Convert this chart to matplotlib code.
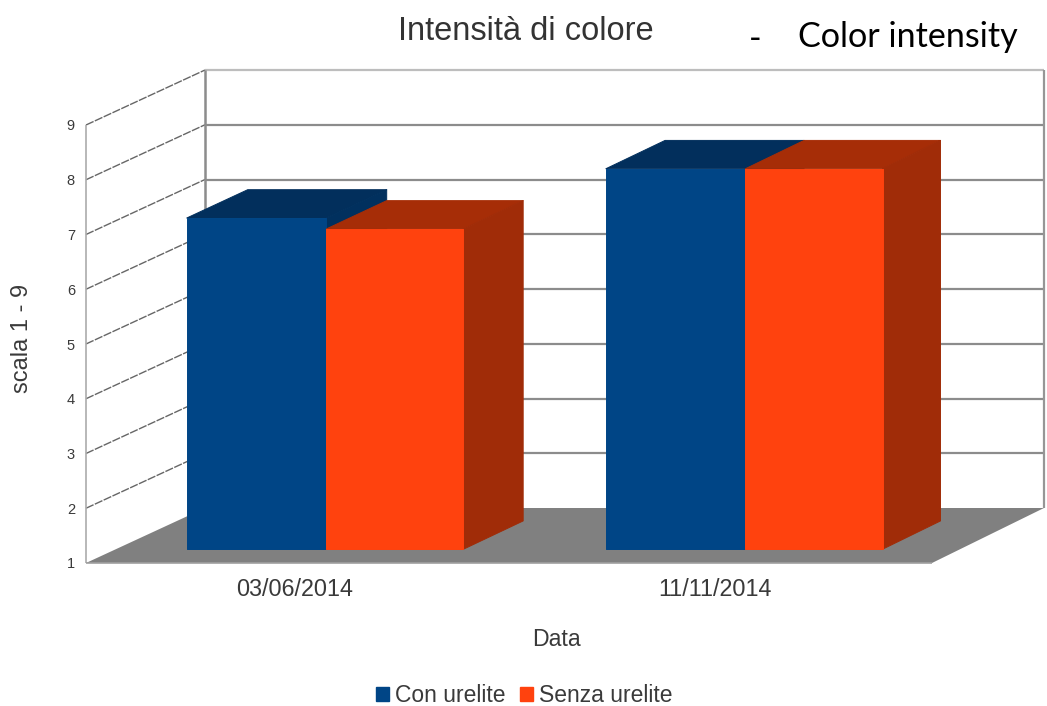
import matplotlib
matplotlib.use("Agg")
import matplotlib.pyplot as plt
from matplotlib.patches import Polygon, Patch
from matplotlib.transforms import ScaledTranslation

# Chart data
categories = ["03/06/2014", "11/11/2014"]
series_names = ["Con urelite", "Senza urelite"]
con_urelite = [7.05, 7.95]
senza_urelite = [6.85, 7.95]
value_ticks = [1, 2, 3, 4, 5, 6, 7, 8, 9]

# Face colours per series: front, top, side
palette = [("#004586", "#022F5C", "#01305E"), ("#FF420E", "#A62D07", "#A02C08")]

W, H = 1047, 706
fig = plt.figure(figsize=(W / 100, H / 100), dpi=100, facecolor="white")
plt.rcParams["font.family"] = ["Liberation Sans", "DejaVu Sans"]
ax = fig.add_axes([86 / W, (H - 563) / H, (932 - 86) / W, (563 - 125) / H])

# Front plane in axis units: one category step is 420 px, one value step 54.75 px
step_px = 420
xmin, xmax = -211 / step_px, 635 / step_px
ymin, ymax = 1, 9
ax.set_xlim(xmin, xmax)
ax.set_ylim(ymin, ymax)

# Oblique depth: shift of the back plane, slightly narrower on the right side
shift_left, shift_right = 119 / step_px, 112 / step_px
shift_up = 55 / 54.75


def project(x, v, d):
    """Map a point at depth d (0 front, 1 back) onto the front-plane axes."""
    t = (x - xmin) / (xmax - xmin)
    return x + d * (shift_left + (shift_right - shift_left) * t), v + d * shift_up


def face(points, color, z, edge=None, lw=0.0):
    ax.add_patch(Polygon([project(*p) for p in points], closed=True, facecolor=color,
                         edgecolor=edge or color, linewidth=lw, joinstyle="round",
                         clip_on=False, zorder=z))


def line(p, q, color, lw, z=1, style="-"):
    a, b = project(*p), project(*q)
    ax.plot([a[0], b[0]], [a[1], b[1]], color=color, lw=lw, clip_on=False, zorder=z,
            solid_capstyle="butt", linestyle=style)


# Walls and grid
for v in value_ticks:
    if v > ymin:
        line((xmin, v, 1), (xmax, v, 1), "#BDBDBD" if v == ymax else "#8C8C8C", 1.6)
        line((xmin, v, 0), (xmin, v, 1), "#666666", 1.0, style=(0, (6, 1)))
line((xmin, ymin, 1), (xmin, ymax, 1), "#8C8C8C", 1.8)
line((xmax, ymin, 1), (xmax, ymax, 1), "#969696", 1.6)
line((xmin, ymin, 0), (xmin, ymax, 0), "#ABABAB", 1.2)

# Floor
face([(xmin, ymin, 0), (xmax, ymin, 0), (xmax, ymin, 1), (xmin, ymin, 1)], "#808080", 2)
line((xmin, ymin, 0), (xmax, ymin, 0), "#A0A0A0", 1.2, z=3)

# Bars: left series first in each group so its neighbour overlaps it
bar_widths = [0.333, 0.327]
d0, d1 = 0.25, 0.765
edge_lw = 0.7
z = 4
for i in range(len(categories)):
    for j, values in enumerate([con_urelite, senza_urelite]):
        front, top, side = palette[j]
        x0 = i - bar_widths[0] if j == 0 else i
        x1 = x0 + bar_widths[j]
        v = values[i]
        face([(x0, v, d0), (x1, v, d0), (x1, v, d1), (x0, v, d1)], top, z, lw=edge_lw)
        face([(x1, ymin, d0), (x1, v, d0), (x1, v, d1), (x1, ymin, d1)], side, z, lw=edge_lw)
        face([(x0, ymin, d0), (x1, ymin, d0), (x1, v, d0), (x0, v, d0)], front, z + 1, lw=edge_lw)
        z += 2

# Axes furniture
for s in ax.spines.values():
    s.set_visible(False)
ax.patch.set_alpha(0)
text_color = "#3A3A3A"
ax.set_yticks(value_ticks)
ax.set_yticklabels([str(v) for v in value_ticks], fontsize=10.5, color=text_color)
ax.set_xticks(range(len(categories)))
ax.set_xticklabels(categories, fontsize=16.8, color=text_color)
ax.tick_params(axis="both", length=0)
ax.tick_params(axis="y", pad=8)
ax.tick_params(axis="x", pad=10.5)
nudge = ScaledTranslation(-2 / 100, 0, fig.dpi_scale_trans)
for label in ax.get_xticklabels():
    label.set_transform(label.get_transform() + nudge)

fig.text(22 / W, 1 - 338 / H, "scala 1 - 9", rotation=90, ha="center", va="center",
         fontsize=17, color=text_color)
fig.text(556 / W, 1 - 640 / H, "Data", ha="center", va="center", fontsize=16.7, color=text_color)
fig.text(526 / W, 1 - 31 / H, "Intensità di colore", ha="center", va="center",
         fontsize=23.5, color="#333333")
fig.text(755 / W, 1 - 39 / H, "-", ha="center", va="center", fontsize=24.6, family="Lato", color="black")
fig.text(908 / W, 1 - 37 / H, "Color intensity", ha="center", va="center", fontsize=24.6,
         family="Lato", color="black")

handles = [Patch(facecolor=palette[k][0], edgecolor=palette[k][0]) for k in range(2)]
fig.legend(handles, series_names, loc="center", bbox_to_anchor=(524 / W, 1 - 696 / H), ncol=2,
           frameon=False, fontsize=16.5, labelcolor=text_color, handlelength=0.57, handleheight=0.57,
           handletextpad=0.26, columnspacing=0.65, borderpad=0)

fig.savefig("out.png", dpi=100, facecolor="white")
